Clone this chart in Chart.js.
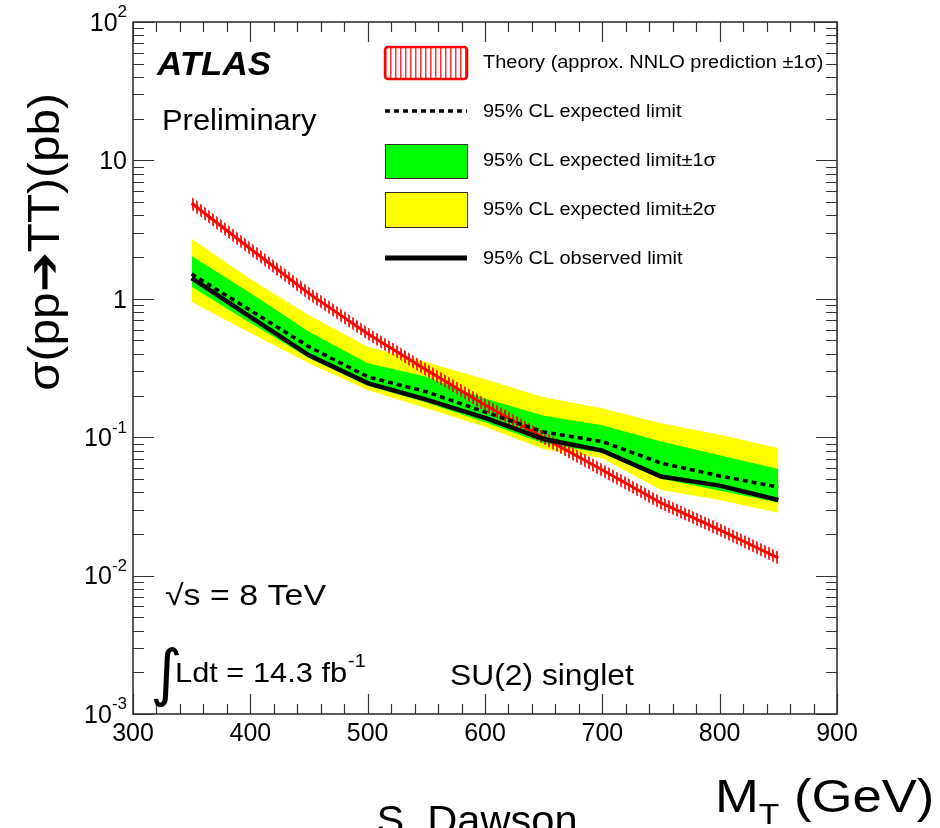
<!DOCTYPE html>
<html>
<head>
<meta charset="utf-8">
<title>SU(2) singlet T quark limits</title>
<script src="https://cdn.jsdelivr.net/npm/chart.js@4/dist/chart.umd.min.js"></script>
<style>
  html, body { margin: 0; padding: 0; background: #fff; }
  canvas { display: block; }
</style>
</head>
<body>
<canvas id="c" width="940" height="828"></canvas>
<script>
// Mass points (GeV)
const massPoints = [350, 400, 450, 500, 550, 600, 650, 700, 750, 800, 850];

// 95% CL limits on the cross-section (pb)
const observedLimit  = [1.41, 0.74, 0.39, 0.246, 0.187, 0.138, 0.097, 0.080, 0.052, 0.0447, 0.0352];
const expectedLimit  = [1.51, 0.826, 0.45, 0.273, 0.213, 0.152, 0.109, 0.093, 0.065, 0.0525, 0.0436];
const expectedPlus1  = [2.04, 1.10, 0.578, 0.342, 0.273, 0.190, 0.143, 0.122, 0.093, 0.074, 0.0589];
const expectedMinus1 = [1.22, 0.668, 0.373, 0.235, 0.178, 0.128, 0.090, 0.077, 0.050, 0.041, 0.0338];
const expectedPlus2  = [2.70, 1.39, 0.76, 0.45, 0.349, 0.262, 0.194, 0.162, 0.126, 0.104, 0.0835];
const expectedMinus2 = [0.95, 0.566, 0.342, 0.219, 0.162, 0.119, 0.082, 0.0705, 0.0416, 0.0352, 0.0285];

// Approx. NNLO theory prediction and its +-1 sigma band (pb)
const theoryCentral = [4.9, 2.3, 1.09, 0.56, 0.306, 0.171, 0.099, 0.058, 0.0335, 0.0214, 0.0134];
const theoryUp      = [5.45, 2.55, 1.21, 0.62, 0.34, 0.19, 0.110, 0.064, 0.0372, 0.0238, 0.0149];
const theoryDown    = [4.4, 2.07, 0.98, 0.505, 0.276, 0.154, 0.089, 0.052, 0.0302, 0.0193, 0.0121];

// Axis ticks
const xTickLabels = ['300', '400', '500', '600', '700', '800', '900'];
const yTickValues = [1e-3, 1e-2, 1e-1, 1, 10, 100];
const yTickBase   = ['10', '10', '10', '1', '10', '10'];
const yTickExp    = ['-3', '-2', '-1', '', '', '2'];

// Legend entries
const legendLabels = [
  'Theory (approx. NNLO prediction \u00b11\u03c3)',
  '95% CL expected limit',
  '95% CL expected limit\u00b11\u03c3',
  '95% CL expected limit\u00b12\u03c3',
  '95% CL observed limit'
];

const FONT = '"Liberation Sans", Arial, Helvetica, sans-serif';

function hatchPattern(step, lineW, color) {
  const c = document.createElement('canvas');
  c.width = step; c.height = 8;
  const g = c.getContext('2d');
  g.fillStyle = color;
  g.fillRect(0, 0, lineW, 8);
  return g.createPattern(c, 'repeat');
}

const ctx0 = document.getElementById('c').getContext('2d');
const redHatch = hatchPattern(4, 2, 'rgba(255,0,0,0.85)');
const legendHatch = hatchPattern(5, 1.5, 'rgba(255,0,0,0.8)');

const pts = arr => arr.map((v, i) => ({ x: massPoints[i], y: v }));

const band = (data, color, order, fill) => ({
  data: pts(data), borderWidth: 0, pointRadius: 0, tension: 0,
  backgroundColor: color, fill: fill, order: order, borderColor: 'transparent'
});

// text drawn with a horizontal stretch factor
function wideText(ctx, text, x, y, font, sx) {
  ctx.save();
  ctx.font = font;
  ctx.translate(x, y);
  ctx.scale(sx, 1);
  ctx.fillText(text, 0, 0);
  const w = ctx.measureText(text).width * sx;
  ctx.restore();
  return w;
}

function drawSupLabel(ctx, base, exp, xRight, yMid, size) {
  const supSize = Math.round(size * 0.66);
  ctx.font = size + 'px ' + FONT;
  const wb = ctx.measureText(base).width;
  ctx.font = supSize + 'px ' + FONT;
  const we = exp ? ctx.measureText(exp).width : 0;
  const x0 = xRight - wb - we;
  ctx.textAlign = 'left';
  ctx.textBaseline = 'middle';
  ctx.font = size + 'px ' + FONT;
  ctx.fillText(base, x0, yMid);
  if (exp) {
    ctx.font = supSize + 'px ' + FONT;
    ctx.fillText(exp, x0 + wb, yMid - size * 0.45);
  }
}

const decorations = {
  id: 'decorations',
  afterDraw(chart) {
    const ctx = chart.ctx;
    const { left, right, top, bottom } = chart.chartArea;
    const xs = chart.scales.x, ys = chart.scales.y;
    ctx.save();

    // frame
    ctx.strokeStyle = '#333';
    ctx.lineWidth = 1.6;
    ctx.strokeRect(left, top, right - left, bottom - top);

    // x ticks (inward, bottom and top)
    ctx.lineWidth = 1.2;
    ctx.beginPath();
    for (let v = 300; v <= 900; v += 20) {
      const px = Math.round(xs.getPixelForValue(v)) + 0.5;
      const len = (v % 100 === 0) ? 20 : 10;
      ctx.moveTo(px, bottom); ctx.lineTo(px, bottom - len);
      ctx.moveTo(px, top); ctx.lineTo(px, top + len);
    }
    // y ticks (inward, left and right)
    for (let e = -3; e <= 2; e++) {
      for (let m = 1; m <= 9; m++) {
        if (e === 2 && m > 1) break;
        const v = m * Math.pow(10, e);
        const py = Math.round(ys.getPixelForValue(v)) + 0.5;
        const len = (m === 1) ? 21 : 11;
        ctx.moveTo(left, py); ctx.lineTo(left + len, py);
        ctx.moveTo(right, py); ctx.lineTo(right - len, py);
      }
    }
    ctx.stroke();

    // tick labels
    ctx.fillStyle = '#000';
    ctx.font = '25px ' + FONT;
    ctx.textAlign = 'center';
    ctx.textBaseline = 'top';
    xTickLabels.forEach(t => {
      ctx.fillText(t, xs.getPixelForValue(Number(t)), 722);
    });
    yTickValues.forEach((v, i) => {
      drawSupLabel(ctx, yTickBase[i], yTickExp[i], 127, ys.getPixelForValue(v) + 2, 25);
    });

    // axis titles
    ctx.save();
    ctx.translate(47, 242);
    ctx.rotate(-Math.PI / 2);
    ctx.scale(1.06, 1);
    ctx.font = '45px ' + FONT;
    ctx.textAlign = 'center';
    ctx.textBaseline = 'middle';
    ctx.fillText('\u03c3(pp\u2794TT)(pb)', 0, 0);
    ctx.restore();

    ctx.textAlign = 'left';
    ctx.textBaseline = 'alphabetic';
    let wx = 715;
    wx += wideText(ctx, 'M', wx, 812, '47px ' + FONT, 1.12);
    wx += wideText(ctx, 'T', wx, 824, '30px ' + FONT, 1.12);
    wideText(ctx, ' (GeV)', wx, 812, '47px ' + FONT, 1.12);

    ctx.textAlign = 'center';
    wideText(ctx, 'S. Dawson', 477, 834, '40px ' + FONT, 1.04);

    // labels inside the frame
    ctx.textAlign = 'left';
    wideText(ctx, 'ATLAS', 157, 75, 'italic bold 33px ' + FONT, 1.06);
    wideText(ctx, 'Preliminary', 162, 130, '30px ' + FONT, 1.03);

    wideText(ctx, '\u221as = 8 TeV', 165, 605, '29px ' + FONT, 1.17);
    ctx.font = '62px "DejaVu Sans", sans-serif';
    ctx.fillText('\u222b', 150, 694);
    const lw = wideText(ctx, 'Ldt = 14.3 fb', 175, 682, '28px ' + FONT, 1.1);
    wideText(ctx, '-1', 175 + lw + 1, 667, '18px ' + FONT, 1.1);
    wideText(ctx, 'SU(2) singlet', 450, 685, '30px ' + FONT, 1.06);

    // legend
    const bx0 = 385, bx1 = 467, tx = 483;
    const rows = [62, 111, 160, 209, 258];
    ctx.textBaseline = 'middle';
    legendLabels.forEach((t, i) => wideText(ctx, t, tx, rows[i] + 1, '17.5px ' + FONT, 1.14));

    // theory swatch: red hatched box with red outline
    ctx.fillStyle = legendHatch;
    ctx.fillRect(bx0, 47, bx1 - bx0, 32);
    ctx.strokeStyle = '#ff0000';
    ctx.lineWidth = 2.5;
    ctx.beginPath();
    ctx.roundRect(bx0, 47, bx1 - bx0, 32, 3);
    ctx.stroke();

    // expected (dashed)
    ctx.strokeStyle = '#000';
    ctx.lineWidth = 3.5;
    ctx.setLineDash([5, 4]);
    ctx.beginPath(); ctx.moveTo(bx0, rows[1]); ctx.lineTo(bx1, rows[1]); ctx.stroke();
    ctx.setLineDash([]);

    // +-1 sigma and +-2 sigma swatches
    ctx.lineWidth = 1;
    ctx.strokeStyle = '#333';
    ctx.fillStyle = '#00ff00';
    ctx.fillRect(bx0, 144, bx1 - bx0, 34);
    ctx.strokeRect(bx0 + 0.5, 144.5, bx1 - bx0, 34);
    ctx.fillStyle = '#ffff00';
    ctx.fillRect(bx0, 192, bx1 - bx0, 35);
    ctx.strokeRect(bx0 + 0.5, 192.5, bx1 - bx0, 35);

    // observed
    ctx.strokeStyle = '#000';
    ctx.lineWidth = 5;
    ctx.beginPath(); ctx.moveTo(bx0, rows[4]); ctx.lineTo(bx1, rows[4]); ctx.stroke();

    ctx.restore();
  }
};

new Chart(ctx0, {
  type: 'line',
  data: {
    datasets: [
      { data: pts(observedLimit), borderColor: '#000', borderWidth: 4.5, pointRadius: 0, tension: 0, fill: false, order: 1 },
      { data: pts(expectedLimit), borderColor: '#000', borderWidth: 3.5, borderDash: [5, 4], pointRadius: 0, tension: 0, fill: false, order: 2 },
      { data: pts(theoryCentral), borderColor: '#ff0000', borderWidth: 3, pointRadius: 0, tension: 0, fill: false, order: 3 },
      band(theoryUp, redHatch, 4, '+1'),
      band(theoryDown, 'transparent', 4, false),
      band(expectedPlus1, '#00ff00', 5, '+1'),
      band(expectedMinus1, 'transparent', 5, false),
      band(expectedPlus2, '#ffff00', 6, '+1'),
      band(expectedMinus2, 'transparent', 6, false)
    ]
  },
  options: {
    responsive: false,
    animation: false,
    devicePixelRatio: 1,
    layout: { padding: { left: 133, right: 103, top: 22, bottom: 114 } },
    plugins: { legend: { display: false }, tooltip: { enabled: false } },
    scales: {
      x: { type: 'linear', min: 300, max: 900, display: false },
      y: { type: 'logarithmic', min: 1e-3, max: 1e2, display: false }
    }
  },
  plugins: [decorations]
});
</script>
</body>
</html>
